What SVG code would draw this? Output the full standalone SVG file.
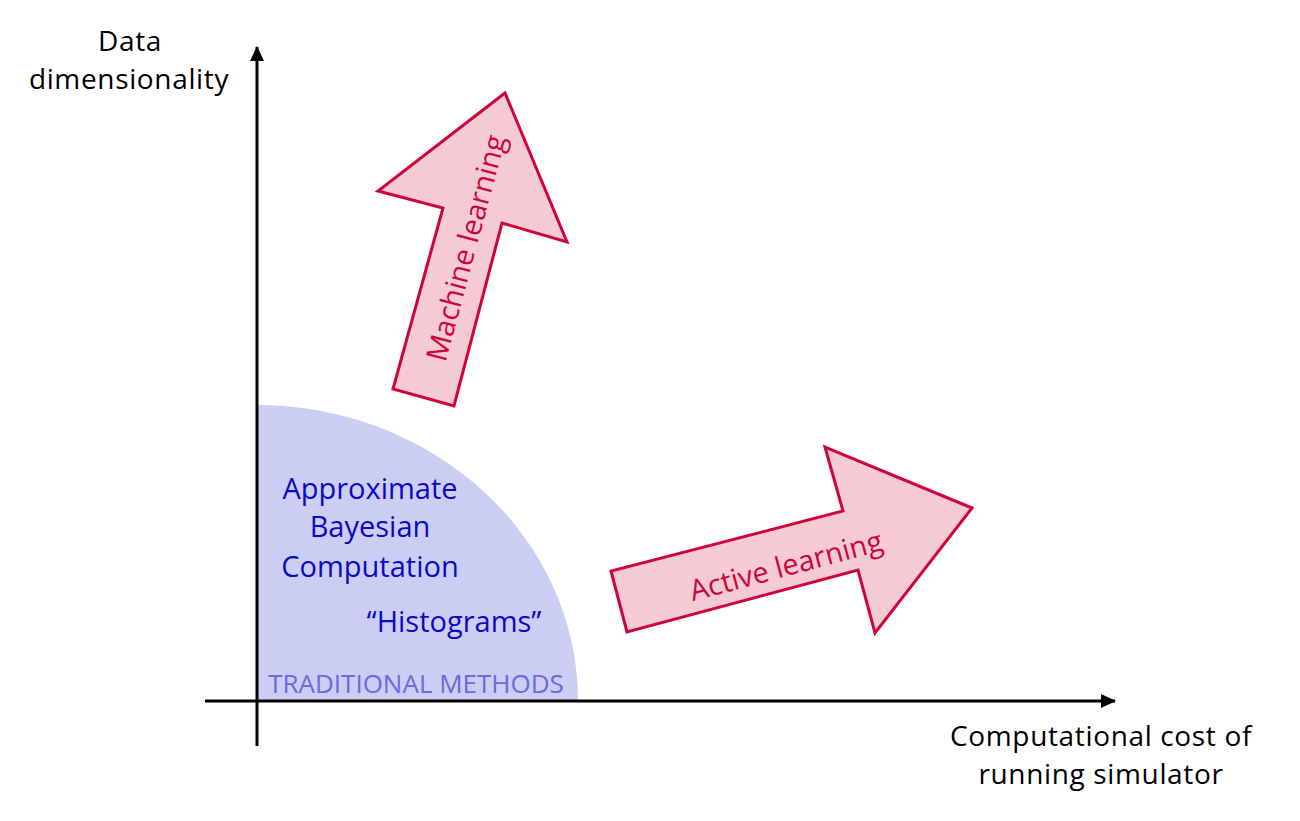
<svg xmlns="http://www.w3.org/2000/svg" width="1300" height="821" viewBox="0 0 1300 821">
<style>
.t{font-family:"Open Sans","Noto Sans",sans-serif;}
.ax{font-size:28px;letter-spacing:0.65px;fill:#000;}
.blue{font-size:29px;fill:#0a0ac4;}
.trad{font-size:26px;fill:#6a6ae0;}
.arr{fill:#f4cbd5;stroke:#d0043c;stroke-width:3;stroke-linejoin:miter;}
.al{font-size:29px;fill:#d0043c;}
</style>
<defs>
<marker id="ah" markerWidth="15" markerHeight="14" refX="14" refY="7" orient="auto" markerUnits="userSpaceOnUse">
<path d="M0,0 L15,7 L0,14 Z" fill="#000"/>
</marker>
</defs>
<rect width="1300" height="821" fill="#fff"/>
<g id="traditional">
<path d="M257,701 L257,405 A321,296 0 0 1 578,701 Z" fill="#cccdf3"/>
<text class="t blue" text-anchor="middle"><tspan x="370" y="499">Approximate</tspan><tspan x="370" y="537">Bayesian</tspan><tspan x="370" y="577">Computation</tspan></text>
<text class="t blue" x="454" y="632" text-anchor="middle">“Histograms”</text>
<text class="t trad" x="416" y="693" text-anchor="middle">TRADITIONAL METHODS</text>
</g>
<g id="connectors">
<line x1="257" y1="746" x2="257" y2="47" stroke="#000" stroke-width="3" marker-end="url(#ah)"/>
<line x1="205" y1="701" x2="1115" y2="701" stroke="#000" stroke-width="3" marker-end="url(#ah)"/>
</g>
<g id="y-label">
<text class="t ax" text-anchor="middle"><tspan x="130" y="51">Data</tspan><tspan x="129" y="89">dimensionality</tspan></text>
</g>
<g id="x-label">
<text class="t ax" text-anchor="middle"><tspan x="1101" y="746">Computational cost of</tspan><tspan x="1101" y="784">running simulator</tspan></text>
</g>
<g id="machine-learning">
<polygon class="arr" points="505,93 567,242 502,223 454,406 393,389 443,208 378,191"/>
<text class="t al" transform="translate(466,248) rotate(-75)" x="0" y="10" text-anchor="middle">Machine learning</text>
</g>
<g id="active-learning">
<polygon class="arr" points="611,571 627,632 858,570 875,633 972,508 825,447 843,511"/>
<text class="t al" transform="translate(786,566) rotate(-15)" x="0" y="10" text-anchor="middle">Active learning</text>
</g>
</svg>
